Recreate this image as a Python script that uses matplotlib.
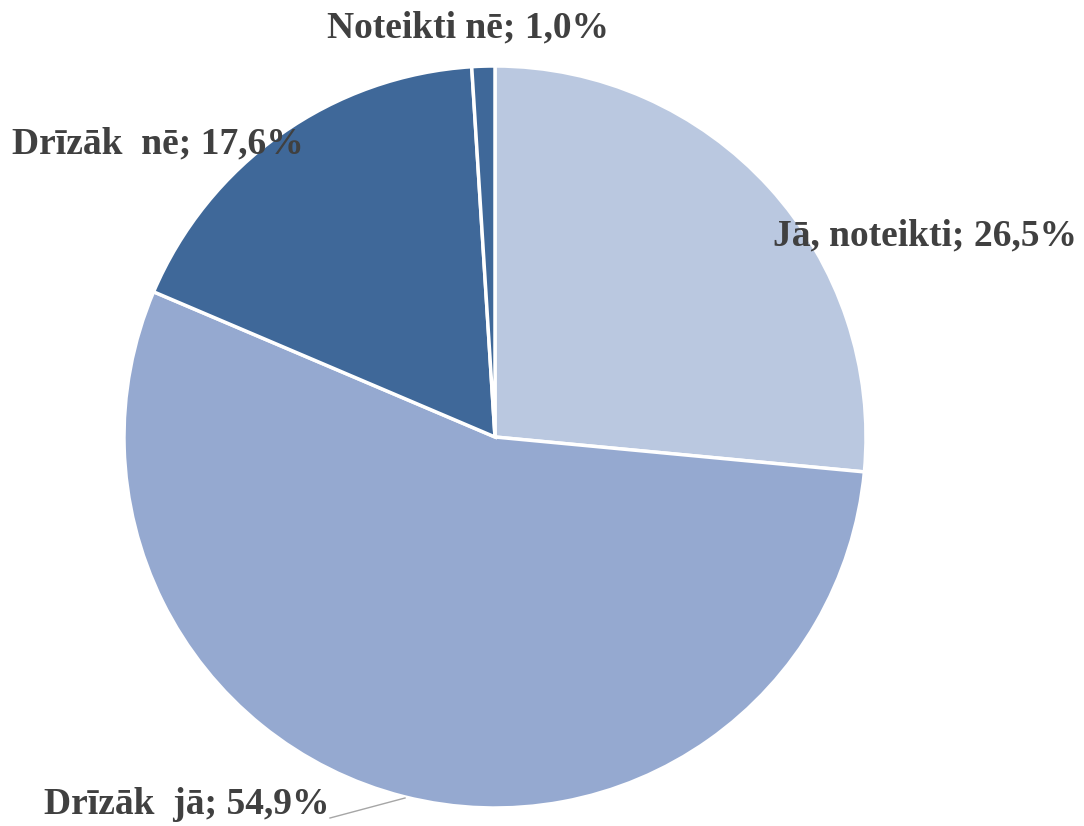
import matplotlib
matplotlib.use("Agg")
import matplotlib.pyplot as plt

labels = ["Jā, noteikti", "Drīzāk  jā", "Drīzāk  nē", "Noteikti nē"]
values = [26.5, 54.9, 17.6, 1.0]
colors = ["#BAC8E0", "#95A9D0", "#3F6899", "#3F6899"]

W, H = 1084, 826
fig = plt.figure(figsize=(W / 100, H / 100), dpi=100)
ax = fig.add_axes([0, 0, 1, 1])

cx, cy, r = 495, H - 437, 371
ax.pie(values, colors=colors, startangle=90, counterclock=False,
       center=(cx, cy), radius=r, frame=True,
       wedgeprops=dict(edgecolor="white", linewidth=2.5))
ax.set_xlim(0, W)
ax.set_ylim(0, H)
ax.axis("off")

txt = dict(fontsize=27, fontweight="bold", color="#404040",
           family="Liberation Serif", va="center", ha="left")
# label positions in pixel coords (left x, center y from top)
pos = [(773, 236), (44, 804), (12, 144), (327, 28)]
for lab, v, (x, y) in zip(labels, values, pos):
    s = f"{lab}; {v:.1f}%".replace(".", ",")
    ax.text(x, H - y, s, **txt)

# leader line for "Drīzāk jā"
ax.plot([330, 405], [H - 818, H - 798], color="#A6A6A6", lw=1)

fig.savefig("out.png", dpi=100)
